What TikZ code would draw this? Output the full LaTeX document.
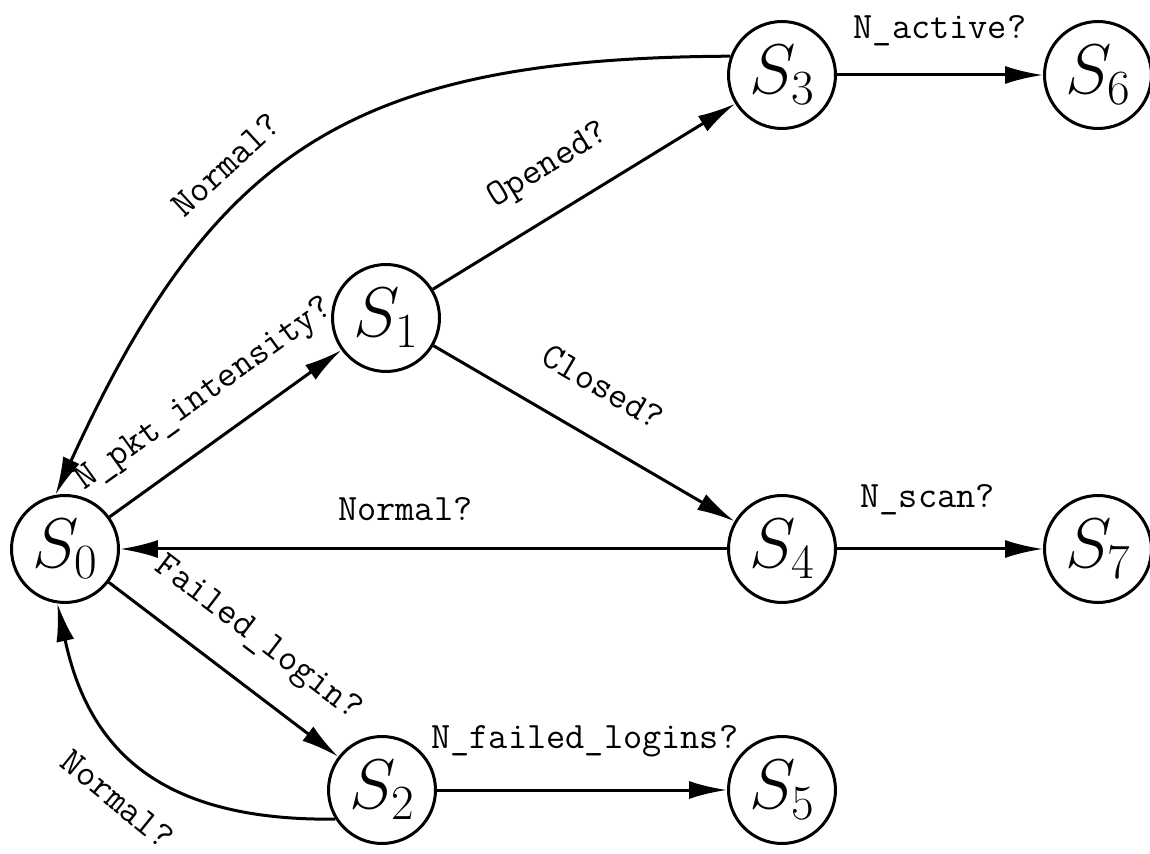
\RequirePackage{fix-cm}
\documentclass[tikz,border=0pt]{standalone}
\usetikzlibrary{arrows.meta}
\begin{document}
\begin{tikzpicture}[x=0.02cm,y=-0.02cm,
  state/.style={circle,draw,line width=0.06cm,minimum size=2.14cm,inner sep=0pt,font=\fontsize{40}{48}\selectfont},
  edge/.style={line width=0.06cm,-{Latex[length=0.76cm,width=0.36cm]}},
  lbl/.style={font=\fontsize{21.2}{25}\selectfont\ttfamily,inner sep=0pt,text depth=0pt}]
\useasboundingbox (0,0) rectangle (1150,854);
\node[state] (S0) at (65,549) {$S_0$};
\node[state] (S1) at (386,318) {$S_1$};
\node[state] (S2) at (382,790) {$S_2$};
\node[state] (S3) at (782,75) {$S_3$};
\node[state] (S4) at (782,549) {$S_4$};
\node[state] (S5) at (782,790) {$S_5$};
\node[state] (S6) at (1098,75) {$S_6$};
\node[state] (S7) at (1098,549) {$S_7$};

\draw[edge] (S0) -- node[lbl,sloped,above=0.68cm,pos=0.52] {N\_pkt\_intensity?} (S1);
\draw[edge] (S1) -- node[lbl,sloped,above=0.7cm,pos=0.46] {Opened?} (S3);
\draw[edge] (S1) -- node[lbl,sloped,above=0.74cm,pos=0.48] {Closed?} (S4);
\draw[edge] (S0) -- node[lbl,sloped,above=0.72cm,pos=0.53] {Failed\_login?} (S2);
\draw[edge] (S4) -- node[lbl,above=0.54cm,pos=0.53] {Normal?} (S0);
\draw[edge] (S3) -- node[lbl,above=0.7cm,pos=0.5] {N\_active?} (S6);
\draw[edge] (S4) -- node[lbl,above=0.8cm,pos=0.44] {N\_scan?} (S7);
\draw[edge] (S2) -- node[lbl,above=0.8cm,pos=0.51] {N\_failed\_logins?} (S5);
\draw[edge] (S3.160) .. controls (350,58) and (213,151) .. node[lbl,sloped,above=0.5cm,pos=0.6] {Normal?} (S0.100);
\draw[edge] (S2.212) .. controls (162,821) and (89,752) .. node[lbl,sloped,below=0.55cm,pos=0.5] {Normal?} (S0.262);
\end{tikzpicture}
\end{document}
